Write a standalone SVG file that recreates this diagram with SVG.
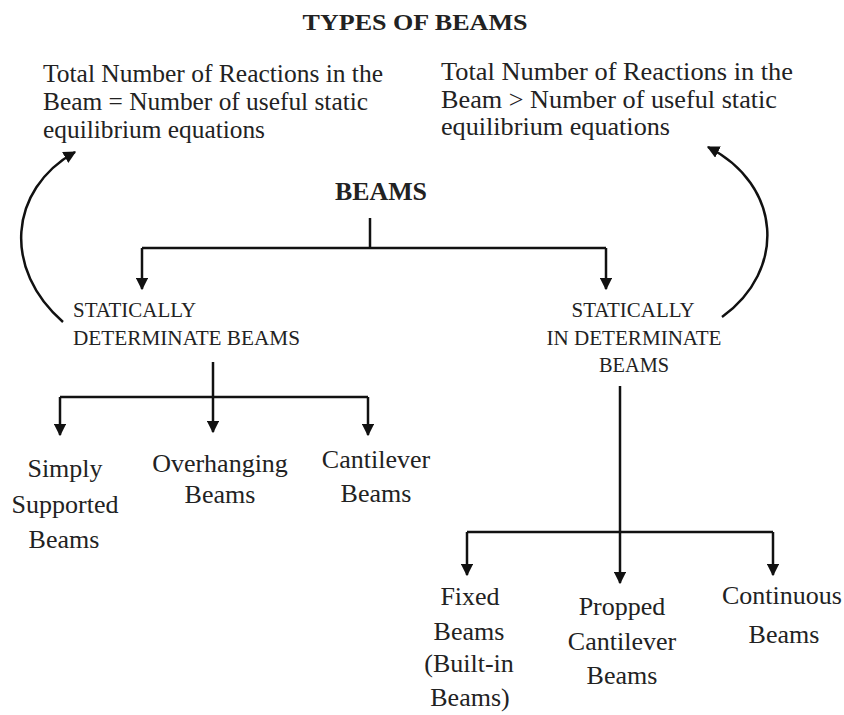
<svg xmlns="http://www.w3.org/2000/svg" width="844" height="715" viewBox="0 0 844 715">
<style>
.all text{font-family:'Liberation Serif','Times New Roman','DejaVu Serif',serif;fill:#222}
.t{font-size:24px;font-weight:bold}
.bm{font-size:26px;font-weight:bold}
.b{font-size:25px}
.c{font-size:22px}
.n{font-size:26px;text-anchor:middle}
.ln{stroke:#111;stroke-width:2.5;fill:none}
</style>
<defs>
<marker id="ah" viewBox="0 0 10 10" refX="9" refY="5" markerWidth="5" markerHeight="5" orient="auto" markerUnits="strokeWidth">
<path d="M0,0 L10,5 L0,10 z" fill="#111"/>
</marker>
</defs>
<g class="all" font-family="Liberation Serif, serif">
<g id="title"><text class="t" x="415" y="30" text-anchor="middle" textLength="225" lengthAdjust="spacingAndGlyphs">TYPES OF BEAMS</text></g>
<g id="note-left"><text class="b" x="43" y="82" textLength="340" lengthAdjust="spacingAndGlyphs">Total Number of Reactions in the</text><text class="b" x="43" y="110" textLength="325" lengthAdjust="spacingAndGlyphs">Beam = Number of useful static</text><text class="b" x="43" y="138" textLength="222" lengthAdjust="spacingAndGlyphs">equilibrium equations</text></g>
<g id="note-right"><text class="b" x="441" y="80" textLength="352" lengthAdjust="spacingAndGlyphs">Total Number of Reactions in the</text><text class="b" x="441" y="108" textLength="336" lengthAdjust="spacingAndGlyphs">Beam &gt; Number of useful static</text><text class="b" x="441" y="135" textLength="229" lengthAdjust="spacingAndGlyphs">equilibrium equations</text></g>
<g id="beams"><text class="bm" x="381" y="200" text-anchor="middle" textLength="92" lengthAdjust="spacingAndGlyphs">BEAMS</text></g>
<g id="det"><text class="c" x="73" y="317" textLength="123" lengthAdjust="spacingAndGlyphs">STATICALLY</text><text class="c" x="73" y="345" textLength="227" lengthAdjust="spacingAndGlyphs">DETERMINATE BEAMS</text></g>
<g id="indet"><text class="c" x="633" y="317" text-anchor="middle" textLength="123" lengthAdjust="spacingAndGlyphs">STATICALLY</text><text class="c" x="634" y="345" text-anchor="middle" textLength="175" lengthAdjust="spacingAndGlyphs">IN DETERMINATE</text><text class="c" x="634" y="372" text-anchor="middle" textLength="70" lengthAdjust="spacingAndGlyphs">BEAMS</text></g>
<g id="simply"><text class="n" x="65" y="477">Simply</text><text class="n" x="65" y="513">Supported</text><text class="n" x="64" y="548">Beams</text></g>
<g id="overhanging"><text class="n" x="220" y="472">Overhanging</text><text class="n" x="220" y="503">Beams</text></g>
<g id="cantilever"><text class="n" x="376" y="468">Cantilever</text><text class="n" x="376" y="502">Beams</text></g>
<g id="fixed"><text class="n" x="470" y="605">Fixed</text><text class="n" x="469" y="640">Beams</text><text class="n" x="469" y="672">(Built-in</text><text class="n" x="470" y="706">Beams)</text></g>
<g id="propped"><text class="n" x="622" y="615">Propped</text><text class="n" x="622" y="650">Cantilever</text><text class="n" x="622" y="684">Beams</text></g>
<g id="continuous"><text class="n" x="782" y="604">Continuous</text><text class="n" x="784" y="643">Beams</text></g>
</g>
<g id="connectors">
<path class="ln" d="M370,218 V248"/>
<path class="ln" d="M142,248 H606"/>
<path class="ln" d="M142,248 V289" marker-end="url(#ah)"/>
<path class="ln" d="M606,248 V289" marker-end="url(#ah)"/>
<path class="ln" d="M213,362 V432" marker-end="url(#ah)"/>
<path class="ln" d="M60,397 H368"/>
<path class="ln" d="M60,397 V435" marker-end="url(#ah)"/>
<path class="ln" d="M368,397 V435" marker-end="url(#ah)"/>
<path class="ln" d="M620,386 V583" marker-end="url(#ah)"/>
<path class="ln" d="M467,532 H773"/>
<path class="ln" d="M467,532 V575" marker-end="url(#ah)"/>
<path class="ln" d="M773,532 V575" marker-end="url(#ah)"/>
<path class="ln" d="M63,322 C3,270 8,190 75,152" marker-end="url(#ah)"/>
<path class="ln" d="M722,317 C787,270 782,185 708,147" marker-end="url(#ah)"/>
</g>
</svg>
